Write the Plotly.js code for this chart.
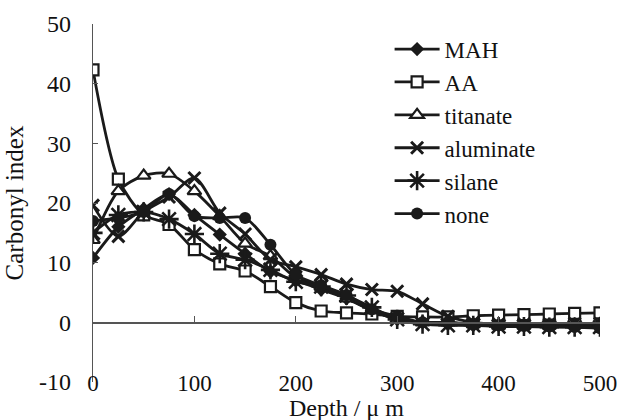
<!DOCTYPE html>
<html>
<head>
<meta charset="utf-8">
<script src="https://cdn.plot.ly/plotly-3.0.1.min.js"></script>
<style>html,body{margin:0;padding:0;background:#fff}#chart{width:622px;height:420px}</style>
</head>
<body>
<div id="chart"></div>
<script>
const depth = [0,25,50,75,100,125,150,175,200,225,250,275,300,325,350,375,400,425,450,475,500];
const MAH       = [10.8,16,19,21.5,18,14.7,11.5,8.5,7,5.5,4,2,0.5,0,-0.3,-0.5,-0.5,-0.5,-0.5,-0.5,-0.5];
const AA        = [42.3,24,18,16.4,12.2,9.8,8.6,6,3.3,1.9,1.6,1.4,1,0.9,0.9,1.1,1.2,1.3,1.4,1.5,1.6];
const titanate  = [13.8,22,24.6,24.9,22,17.8,13.2,11.1,7.5,6,4,2,0.5,0,0,-0.3,-0.5,-0.5,-0.5,-0.4,-0.3];
const aluminate = [19.6,14.4,18.5,21,24.2,18.3,14.8,10.5,9.3,8,6.4,5.5,5.2,3.1,1,0,-0.3,-0.3,-0.3,-0.2,-0.2];
const silane    = [15,18,18.5,17.3,14.8,11.5,10.5,8.8,6.8,6,4.5,2.5,0.5,-0.3,-0.5,-0.5,-0.7,-0.7,-0.8,-0.8,-0.8];
const none      = [17,17.5,18.5,21.5,17.8,17.5,17.5,13,8,6.2,4.6,2.2,1,0,0,-0.3,-0.5,-0.6,-0.7,-0.8,-1];

const names = ['MAH','AA','titanate','aluminate','silane','none'];
const series = [MAH, AA, titanate, aluminate, silane, none];
const yTickVals = [-10,0,10,20,30,40,50];
const yTickText = ['-10','0','10','20','30','40','50'];
const xTitle = 'Depth / μ m';
const yTitle = 'Carbonyl index';
const ink = '#1a1a1a';
const markers = [
  {symbol:'diamond', size:11, color:ink},
  {symbol:'square', size:11, color:'#ffffff', line:{color:ink, width:2.2}},
  {symbol:'triangle-up', size:12, color:'#ffffff', line:{color:ink, width:2.2}},
  {symbol:'x-thin-open', size:12, color:ink, line:{color:ink, width:3}},
  {symbol:'asterisk-open', size:16, color:ink, line:{color:ink, width:2.6}},
  {symbol:'circle', size:12, color:ink}
];

const traces = series.map((s,i) => ({
  x: depth, y: s, name: names[i], type:'scatter', mode:'lines+markers',
  line:{color:ink, width:2.8, shape:'spline', smoothing:0.8},
  marker: markers[i]
}));
traces.push({x:[], y:[], xaxis:'x2', showlegend:false, hoverinfo:'skip'});

const fam = '"Liberation Serif", "Times New Roman", serif';
const f = (s) => ({family:fam, size:s, color:'#111'});

const layout = {
  width:622, height:420,
  margin:{l:93, r:22, t:24, b:38},
  paper_bgcolor:'#fff', plot_bgcolor:'#fff',
  font: f(24),
  showlegend:true,
  legend:{x:0.585, y:0.99, xanchor:'left', yanchor:'top', bgcolor:'rgba(0,0,0,0)',
          font:f(23), tracegroupgap:0, itemwidth:45},
  xaxis:{range:[0,500], dtick:100, tick0:0, anchor:'free', position:0.042, side:'bottom',
         showline:false, showgrid:false, zeroline:false, ticks:'', tickfont:f(23)},
  xaxis2:{overlaying:'x', matches:'x', anchor:'free', position:1/6, side:'bottom',
          showline:true, linecolor:'#555', linewidth:1.2, ticks:'inside', ticklen:6,
          tickcolor:'#555', dtick:100, tick0:0, showticklabels:false, showgrid:false, zeroline:false},
  yaxis:{range:[-10,50], tickmode:'array', tickvals:yTickVals, ticktext:yTickText,
         showline:true, linecolor:'#555', linewidth:1.2,
         ticks:'inside', ticklen:5, tickcolor:'#555', showgrid:false, zeroline:false,
         tickfont:f(24), ticklabelstandoff:16,
         title:{text:yTitle, font:f(25), standoff:8}},
  annotations:[{text:xTitle, xref:'paper', yref:'paper', x:0.5, y:-0.073,
                xanchor:'center', yanchor:'middle', showarrow:false, font:f(24)}]
};

Plotly.newPlot('chart', traces, layout, {displayModeBar:false, staticPlot:true});
</script>
</body>
</html>
